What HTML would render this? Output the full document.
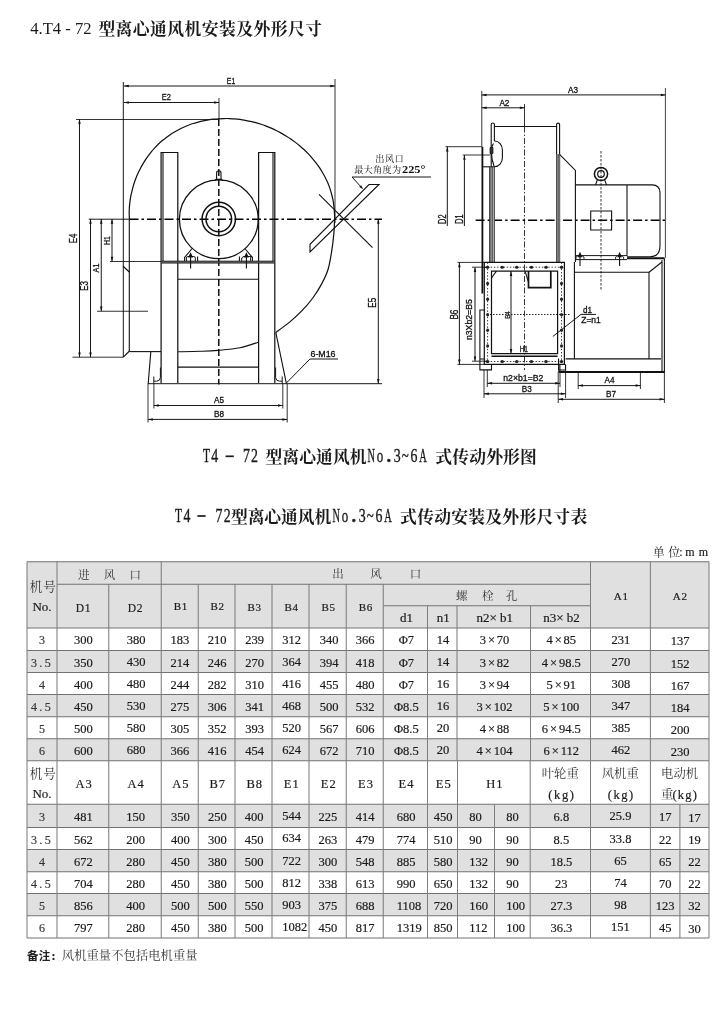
<!DOCTYPE html>
<html><head><meta charset="utf-8"><title>T4-72</title>
<style>
html,body{margin:0;padding:0;background:#fff;}
body{width:720px;height:1015px;overflow:hidden;font-family:"Liberation Serif",serif;}
svg{display:block;filter:grayscale(1)}
text{font-family:"Liberation Serif",serif;fill:#1a1a1a}
#table text{stroke:#1a1a1a;stroke-width:0.18}
.sans{font-family:"Liberation Sans",sans-serif}
.ln{fill:none}
</style></head><body>
<svg width="720" height="1015" viewBox="0 0 720 1015">
<text x="98.4" y="35.3" font-size="16.8" font-weight="bold" letter-spacing="0.45" style="font-family:'Liberation Serif','Noto Serif CJK SC',serif;fill:#1a1a1a">型离心通风机安装及外形尺寸</text>
<text x="30.2" y="33.8" font-size="16.6" style="fill:#1a1a1a">4.T4 - 72</text>
<g id="left-view">
<line x1="124" y1="86" x2="335" y2="86" stroke="#111" stroke-width="0.98"/>
<path d="M124.00 86.00L128.80 84.75L128.80 87.25Z" fill="#111"/>
<path d="M335.00 86.00L330.20 87.25L330.20 84.75Z" fill="#111"/>
<text class="sans" x="231" y="83.7" font-size="9.6" text-anchor="middle" textLength="8.5" lengthAdjust="spacingAndGlyphs" style="fill:#111;stroke:#111;stroke-width:0.3">E1</text>
<line x1="124" y1="102.5" x2="219" y2="102.5" stroke="#111" stroke-width="0.98"/>
<path d="M124.00 102.50L128.80 101.25L128.80 103.75Z" fill="#111"/>
<path d="M219.00 102.50L214.20 103.75L214.20 101.25Z" fill="#111"/>
<text class="sans" x="166.3" y="100.4" font-size="9.6" text-anchor="middle" textLength="9.2" lengthAdjust="spacingAndGlyphs" style="fill:#111;stroke:#111;stroke-width:0.3">E2</text>
<line x1="123.3" y1="82" x2="123.3" y2="357.2" stroke="#111" stroke-width="0.98"/>
<line x1="335" y1="79" x2="335" y2="223" stroke="#111" stroke-width="0.85"/>
<line x1="219" y1="98" x2="219" y2="119" stroke="#111" stroke-width="0.85"/>
<line x1="76" y1="119.5" x2="219" y2="119.5" stroke="#111" stroke-width="0.85"/>
<line x1="79.5" y1="119" x2="79.5" y2="357.2" stroke="#111" stroke-width="0.98"/>
<path d="M79.50 119.00L80.75 123.80L78.25 123.80Z" fill="#111"/>
<path d="M79.50 357.20L78.25 352.40L80.75 352.40Z" fill="#111"/>
<text class="sans" x="76.8" y="238.5" font-size="10" text-anchor="middle" transform="rotate(-90 76.8 238.5)" textLength="9.6" lengthAdjust="spacingAndGlyphs" style="fill:#111;stroke:#111;stroke-width:0.3">E4</text>
<line x1="72.5" y1="357.2" x2="123.3" y2="357.2" stroke="#111" stroke-width="0.85"/>
<line x1="90.5" y1="219" x2="90.5" y2="357.2" stroke="#111" stroke-width="0.98"/>
<path d="M90.50 219.00L91.75 223.80L89.25 223.80Z" fill="#111"/>
<path d="M90.50 357.20L89.25 352.40L91.75 352.40Z" fill="#111"/>
<text class="sans" x="87.8" y="286" font-size="10" text-anchor="middle" transform="rotate(-90 87.8 286)" textLength="9.6" lengthAdjust="spacingAndGlyphs" style="fill:#111;stroke:#111;stroke-width:0.3">E3</text>
<line x1="101.25" y1="219" x2="101.25" y2="311.25" stroke="#111" stroke-width="0.98"/>
<path d="M101.25 219.00L102.50 223.80L100.00 223.80Z" fill="#111"/>
<path d="M101.25 311.25L100.00 306.45L102.50 306.45Z" fill="#111"/>
<text class="sans" x="98.8" y="268" font-size="9.2" text-anchor="middle" transform="rotate(-90 98.8 268)" textLength="8.8" lengthAdjust="spacingAndGlyphs" style="fill:#111;stroke:#111;stroke-width:0.3">A1</text>
<line x1="97" y1="311.25" x2="148" y2="311.25" stroke="#111" stroke-width="0.85"/>
<line x1="112" y1="219" x2="112" y2="261.5" stroke="#111" stroke-width="0.98"/>
<path d="M112.00 219.00L113.25 223.80L110.75 223.80Z" fill="#111"/>
<path d="M112.00 261.50L110.75 256.70L113.25 256.70Z" fill="#111"/>
<text class="sans" x="109.6" y="240.5" font-size="9.2" text-anchor="middle" transform="rotate(-90 109.6 240.5)" textLength="8.8" lengthAdjust="spacingAndGlyphs" style="fill:#111;stroke:#111;stroke-width:0.3">H1</text>
<line x1="110" y1="261.5" x2="161" y2="261.5" stroke="#111" stroke-width="0.85"/>
<line x1="88.75" y1="219.2" x2="129.5" y2="219.2" stroke="#111" stroke-width="0.98"/>
<line x1="129.5" y1="219.2" x2="382" y2="219.2" stroke="#000" stroke-width="1.4" stroke-dasharray="9 3 2.5 3"/>
<line x1="218.8" y1="119" x2="218.8" y2="384.5" stroke="#000" stroke-width="1.4" stroke-dasharray="7 3"/>
<path d="M129.40 219.00C129.37 218.22 129.24 215.87 129.21 214.31C129.19 212.74 129.21 211.16 129.28 209.59C129.34 208.02 129.44 206.44 129.59 204.87C129.73 203.30 129.92 201.72 130.15 200.16C130.38 198.59 130.65 197.02 130.96 195.46C131.27 193.90 131.64 192.35 132.02 190.80C132.40 189.25 132.79 187.70 133.24 186.16C133.68 184.61 134.17 183.08 134.69 181.55C135.22 180.03 135.79 178.51 136.40 177.01C137.00 175.51 137.65 174.02 138.34 172.55C139.03 171.08 139.77 169.62 140.53 168.17C141.30 166.73 142.11 165.30 142.94 163.89C143.78 162.47 144.64 161.06 145.55 159.68C146.45 158.30 147.40 156.94 148.38 155.60C149.37 154.26 150.39 152.94 151.45 151.65C152.51 150.36 153.61 149.09 154.74 147.85C155.87 146.61 157.03 145.38 158.24 144.21C159.45 143.04 160.71 141.92 162.01 140.83C163.30 139.74 164.64 138.70 165.99 137.69C167.35 136.67 168.74 135.69 170.16 134.75C171.57 133.80 173.01 132.89 174.48 132.02C175.95 131.15 177.44 130.31 178.96 129.51C180.47 128.72 182.01 127.95 183.58 127.24C185.14 126.53 186.73 125.87 188.34 125.24C189.94 124.62 191.57 124.05 193.22 123.52C194.86 122.99 196.52 122.49 198.19 122.05C199.86 121.60 201.55 121.19 203.25 120.83C204.95 120.47 206.66 120.16 208.38 119.89C210.10 119.61 211.83 119.39 213.57 119.21C215.31 119.03 217.05 118.91 218.80 118.80C220.55 118.69 222.31 118.58 224.06 118.54C225.82 118.50 227.59 118.50 229.36 118.55C231.12 118.61 232.89 118.70 234.66 118.85C236.43 118.99 238.20 119.19 239.97 119.42C241.73 119.66 243.49 119.95 245.25 120.28C247.01 120.62 248.75 121.02 250.51 121.42C252.26 121.82 254.02 122.22 255.77 122.69C257.52 123.16 259.26 123.68 260.99 124.25C262.72 124.81 264.43 125.43 266.14 126.08C267.85 126.74 269.55 127.44 271.24 128.17C272.93 128.91 274.61 129.67 276.28 130.50C277.94 131.32 279.58 132.19 281.21 133.10C282.84 134.01 284.43 134.99 286.03 135.98C287.62 136.97 289.22 137.99 290.78 139.05C292.35 140.12 293.90 141.22 295.43 142.37C296.95 143.52 298.45 144.72 299.92 145.96C301.39 147.20 302.83 148.48 304.24 149.81C305.65 151.14 307.03 152.51 308.37 153.93C309.71 155.34 311.02 156.79 312.29 158.29C313.56 159.78 314.80 161.31 316.00 162.88C317.20 164.45 318.38 166.05 319.48 167.70C320.59 169.35 321.62 171.05 322.62 172.78C323.62 174.50 324.58 176.26 325.50 178.04C326.41 179.83 327.34 181.63 328.11 183.48C328.88 185.34 329.51 187.25 330.13 189.17C330.75 191.08 331.31 193.02 331.82 194.98C332.33 196.93 332.82 198.90 333.17 200.88C333.53 202.87 333.75 204.89 333.97 206.90C334.18 208.90 334.34 210.92 334.44 212.94C334.55 214.96 334.69 215.66 334.60 219.00C334.51 222.34 334.38 227.65 333.90 233.00C333.42 238.35 332.67 245.07 331.70 251.10C330.73 257.13 329.75 263.78 328.10 269.20C326.45 274.62 324.35 278.80 321.80 283.60C319.25 288.40 316.10 293.48 312.80 298.00C309.50 302.52 305.92 306.63 302.00 310.70C298.08 314.77 293.67 318.78 289.30 322.40C284.93 326.02 278.05 330.73 275.80 332.40" stroke="#111" stroke-width="1.22" fill="none"/>
<line x1="129.3" y1="219" x2="129.3" y2="351.6" stroke="#111" stroke-width="1.1"/>
<path d="M129.3 272L122.9 266M123.3 357.2L129.5 351" stroke="#111" stroke-width="1.1" fill="none"/>
<line x1="129.5" y1="351.6" x2="161" y2="351.6" stroke="#111" stroke-width="1.1"/>
<path d="M178.20 351.80C181.83 351.72 193.40 351.53 200.00 351.30C206.60 351.07 211.13 350.98 217.80 350.40C224.47 349.82 233.27 349.17 240.00 347.80C246.73 346.43 255.17 343.13 258.20 342.20" stroke="#111" stroke-width="1.1" fill="none"/>
<path d="M161.1 383V152.5H177.8V383" stroke="#111" stroke-width="1.22" fill="none"/>
<line x1="163" y1="152.5" x2="163" y2="261" stroke="#111" stroke-width="1.1"/>
<path d="M258.6 383V152.5H274.8V383" stroke="#111" stroke-width="1.22" fill="none"/>
<line x1="273" y1="152.5" x2="273" y2="261" stroke="#111" stroke-width="1.1"/>
<circle cx="218.8" cy="219.3" r="39.4" class="ln" stroke-width="1.3" stroke="#111"/>
<circle cx="218.8" cy="219" r="16.7" class="ln" stroke-width="1.5" stroke="#111"/>
<circle cx="218.8" cy="219" r="12.8" class="ln" stroke-width="1.5" stroke="#111"/>
<path d="M216.6 179.6V173a2.2 2.2 0 0 1 4.4 0V179.6M215 180.6L216 179.4H221.6L222.6 180.6" stroke="#111" stroke-width="1.1" fill="none"/>
<rect x="161.1" y="261.3" width="113.7" height="1.7" fill="#8a8a8a"/>
<line x1="161.1" y1="261.2" x2="274.8" y2="261.2" stroke="#111" stroke-width="0.98"/>
<line x1="161.1" y1="263.0" x2="274.8" y2="263.0" stroke="#111" stroke-width="0.98"/>
<path d="M184.6 261V257.5L192.1 248.5M197.6 261V256.5" stroke="#111" stroke-width="1.1" fill="none"/>
<path d="M186.4 261V258a1.5 1.5 0 0 1 1.5 -1.5H193.79999999999998a1.5 1.5 0 0 1 1.5 1.5V261" stroke="#111" stroke-width="0.98" fill="none"/>
<line x1="190.6" y1="268.5" x2="190.6" y2="255" stroke="#111" stroke-width="1.1"/>
<path d="M190.60 252.20L193.00 257.40L188.20 257.40Z" fill="#111"/>
<path d="M252.4 261V257.5L244.9 248.5M239.4 261V256.5" stroke="#111" stroke-width="1.1" fill="none"/>
<path d="M250.6 261V258a1.5 1.5 0 0 1 1.5 -1.5H243.20000000000002a1.5 1.5 0 0 1 -1.5 1.5V261" stroke="#111" stroke-width="0.98" fill="none"/>
<line x1="246.4" y1="268.5" x2="246.4" y2="255" stroke="#111" stroke-width="1.1"/>
<path d="M246.40 252.20L248.80 257.40L244.00 257.40Z" fill="#111"/>
<line x1="177.8" y1="279.2" x2="258.6" y2="279.2" stroke="#111" stroke-width="1.1"/>
<line x1="177.8" y1="367.1" x2="258.6" y2="367.1" stroke="#111" stroke-width="1.1"/>
<line x1="147.8" y1="383.7" x2="382" y2="383.7" stroke="#111" stroke-width="0.98"/>
<line x1="150.8" y1="351.6" x2="148.2" y2="383.7" stroke="#111" stroke-width="1.1"/>
<line x1="275.8" y1="332.4" x2="286.4" y2="383.7" stroke="#111" stroke-width="1.1"/>
<path d="M153.8 376.5V383.7M160.4 367.5V377.5Q160.2 381 156.5 381.2H153.8" stroke="#111" stroke-width="0.98" fill="none"/>
<path d="M282.2 376.5V383.7M275.6 367.5V377.5Q275.8 381 279.5 381.2H282.2" stroke="#111" stroke-width="0.98" fill="none"/>
<path d="M338 359H310L286.4 383" stroke="#111" stroke-width="0.98" fill="none"/>
<text class="sans" x="323" y="357.2" font-size="8.5" text-anchor="middle" textLength="25" lengthAdjust="spacingAndGlyphs" style="fill:#111;stroke:#111;stroke-width:0.3">6-M16</text>
<line x1="153.9" y1="383.7" x2="153.9" y2="408.5" stroke="#111" stroke-width="0.85"/>
<line x1="282.8" y1="383.7" x2="282.8" y2="408.5" stroke="#111" stroke-width="0.85"/>
<line x1="153.9" y1="405.5" x2="282.8" y2="405.5" stroke="#111" stroke-width="0.98"/>
<path d="M153.90 405.50L158.70 404.25L158.70 406.75Z" fill="#111"/>
<path d="M282.80 405.50L278.00 406.75L278.00 404.25Z" fill="#111"/>
<text class="sans" x="219" y="402.5" font-size="8.8" text-anchor="middle" textLength="10" lengthAdjust="spacingAndGlyphs" style="fill:#111;stroke:#111;stroke-width:0.3">A5</text>
<line x1="148" y1="383.7" x2="148" y2="422.5" stroke="#111" stroke-width="0.85"/>
<line x1="287.2" y1="383.7" x2="287.2" y2="422.5" stroke="#111" stroke-width="0.85"/>
<line x1="148" y1="419.4" x2="287.2" y2="419.4" stroke="#111" stroke-width="0.98"/>
<path d="M148.00 419.40L152.80 418.15L152.80 420.65Z" fill="#111"/>
<path d="M287.20 419.40L282.40 420.65L282.40 418.15Z" fill="#111"/>
<text class="sans" x="219" y="417" font-size="8.8" text-anchor="middle" textLength="10" lengthAdjust="spacingAndGlyphs" style="fill:#111;stroke:#111;stroke-width:0.3">B8</text>
<line x1="378.3" y1="219" x2="378.3" y2="383.7" stroke="#111" stroke-width="0.98"/>
<path d="M378.30 219.00L379.55 223.80L377.05 223.80Z" fill="#111"/>
<path d="M378.30 383.70L377.05 378.90L379.55 378.90Z" fill="#111"/>
<text class="sans" x="376.2" y="302.8" font-size="10.4" text-anchor="middle" transform="rotate(-90 376.2 302.8)" textLength="10" lengthAdjust="spacingAndGlyphs" style="fill:#111;stroke:#111;stroke-width:0.3">E5</text>
<path d="M369 184.5H379L310 252V244.3Z" stroke="#111" stroke-width="1.1" fill="none"/>
<line x1="319" y1="194.4" x2="372.5" y2="247.6" stroke="#111" stroke-width="1.1"/>
<path d="M431 177H352L362 188" stroke="#111" stroke-width="0.98" fill="none"/>
<path d="M363.20 189.30L359.19 186.90L361.09 185.13Z" fill="#111"/>
<text x="375.3" y="161.6" font-size="9.2" letter-spacing="0.4" style="font-family:'Liberation Serif','Noto Serif CJK SC',serif;fill:#111">出风口</text>
<text x="354.2" y="172.8" font-size="9.2" letter-spacing="0.25" style="font-family:'Liberation Serif','Noto Serif CJK SC',serif;fill:#111">最大角度为</text>
<text x="402" y="172.8" font-size="10.5" font-weight="bold" textLength="23.5" lengthAdjust="spacingAndGlyphs" style="fill:#111">225°</text>
</g>
<g id="right-view">
<line x1="481.8" y1="94.9" x2="665.6" y2="94.9" stroke="#111" stroke-width="0.98"/>
<path d="M481.80 94.90L486.60 93.65L486.60 96.15Z" fill="#111"/>
<path d="M665.60 94.90L660.80 96.15L660.80 93.65Z" fill="#111"/>
<text class="sans" x="573" y="92.5" font-size="8.8" text-anchor="middle" textLength="10" lengthAdjust="spacingAndGlyphs" style="fill:#111;stroke:#111;stroke-width:0.3">A3</text>
<line x1="481.8" y1="107.8" x2="524.6" y2="107.8" stroke="#111" stroke-width="0.98"/>
<path d="M481.80 107.80L486.60 106.55L486.60 109.05Z" fill="#111"/>
<path d="M524.60 107.80L519.80 109.05L519.80 106.55Z" fill="#111"/>
<text class="sans" x="504.4" y="105.5" font-size="8.8" text-anchor="middle" textLength="10" lengthAdjust="spacingAndGlyphs" style="fill:#111;stroke:#111;stroke-width:0.3">A2</text>
<line x1="481.8" y1="91" x2="481.8" y2="146.7" stroke="#111" stroke-width="0.85"/>
<line x1="665.4" y1="88" x2="665.4" y2="258" stroke="#111" stroke-width="0.79"/>
<line x1="524.5" y1="104" x2="524.5" y2="126.5" stroke="#111" stroke-width="0.85"/>
<line x1="524.5" y1="126.5" x2="524.5" y2="370" stroke="#333" stroke-width="0.98" stroke-dasharray="6 2 1.5 2"/>
<line x1="447.3" y1="146.7" x2="447.3" y2="226" stroke="#111" stroke-width="0.98"/>
<path d="M447.30 146.70L448.55 151.50L446.05 151.50Z" fill="#111"/>
<line x1="464.4" y1="155" x2="464.4" y2="226" stroke="#111" stroke-width="0.98"/>
<path d="M464.40 155.00L465.65 159.80L463.15 159.80Z" fill="#111"/>
<line x1="445.5" y1="146.7" x2="481.8" y2="146.7" stroke="#111" stroke-width="0.85"/>
<line x1="462.7" y1="155" x2="490.4" y2="155" stroke="#111" stroke-width="0.85"/>
<text class="sans" x="445.7" y="219.2" font-size="10.2" text-anchor="middle" transform="rotate(-90 445.7 219.2)" textLength="9.4" lengthAdjust="spacingAndGlyphs" style="fill:#111;stroke:#111;stroke-width:0.3">D2</text>
<text class="sans" x="462.7" y="219.2" font-size="10.2" text-anchor="middle" transform="rotate(-90 462.7 219.2)" textLength="9.2" lengthAdjust="spacingAndGlyphs" style="fill:#111;stroke:#111;stroke-width:0.3">D1</text>
<line x1="475.6" y1="220.3" x2="665" y2="220.3" stroke="#000" stroke-width="1.4" stroke-dasharray="9 3 2.5 3"/>
<line x1="482.4" y1="146.7" x2="482.4" y2="293.5" stroke="#111" stroke-width="1.83"/>
<line x1="482.4" y1="166.8" x2="490.4" y2="166.8" stroke="#111" stroke-width="1.1"/>
<path d="M491.2 262.4V124.6a1.6 1.6 0 0 1 3.2 0V141" stroke="#111" stroke-width="1.1" fill="none"/>
<line x1="494.4" y1="166.8" x2="494.4" y2="262.4" stroke="#111" stroke-width="1.1"/>
<rect x="489.8" y="166.8" width="4.6" height="95.6" fill="#a8a8a8"/>
<line x1="492.2" y1="166.8" x2="492.2" y2="262.4" stroke="#444" stroke-width="0.98"/>
<line x1="489.8" y1="166.8" x2="489.8" y2="262.4" stroke="#111" stroke-width="1.1"/>
<line x1="494.4" y1="126.5" x2="556.6" y2="126.5" stroke="#111" stroke-width="1.1"/>
<path d="M556.6 262.4V124.6a1.5 1.5 0 0 1 3 0V262.4" stroke="#111" stroke-width="1.1" fill="none"/>
<rect x="556.6" y="154" width="3" height="108.4" fill="#a8a8a8"/>
<line x1="558.1" y1="154" x2="558.1" y2="262.4" stroke="#444" stroke-width="0.98"/>
<path d="M494.4 141C499 141 502.4 145 502.4 150V157.5C502.4 163 499 166.8 494.2 166.8H490.4" stroke="#111" stroke-width="1.1" fill="none"/>
<path d="M493.5 143.5Q491 147 491.5 152Q491.5 160 494 166" stroke="#111" stroke-width="1.1" fill="none"/>
<path d="M490 147.5H493V153.5H490Z" stroke="#111" stroke-width="0.73" fill="#333"/>
<path d="M559.6 154.3L575.4 170.4V262" stroke="#111" stroke-width="1.1" fill="none"/>
<path d="M575.4 184.9H652Q660 184.9 660 193V246Q660 256.7 650 256.7H627" stroke="#111" stroke-width="1.1" fill="none"/>
<line x1="627" y1="184.9" x2="627" y2="256" stroke="#111" stroke-width="1.1"/>
<circle cx="601" cy="174" r="6.6" class="ln" stroke-width="1.5" stroke="#111"/>
<circle cx="601" cy="174" r="3.3" class="ln" stroke-width="1.2" stroke="#111"/>
<path d="M597.3 180L595.5 184.9M604.7 180L606.5 184.9" stroke="#111" stroke-width="1.1" fill="none"/>
<line x1="601" y1="151" x2="601" y2="291" stroke="#111" stroke-width="0.85" stroke-dasharray="2.5 1.5"/>
<path d="M590.7 211H611.6V230H590.7Z" stroke="#111" stroke-width="1.1" fill="none"/>
<line x1="575.4" y1="255.6" x2="627" y2="255.6" stroke="#111" stroke-width="0.98"/>
<line x1="575.4" y1="259.6" x2="627" y2="259.6" stroke="#111" stroke-width="0.98"/>
<line x1="627" y1="258.2" x2="664.4" y2="258.2" stroke="#111" stroke-width="1.95"/>
<line x1="580" y1="266" x2="580" y2="255" stroke="#111" stroke-width="1.1"/>
<path d="M580.00 251.80L582.40 257.30L577.60 257.30Z" fill="#111"/>
<path d="M576 259.6V257L578 255.6M584 259.6V257L582 255.6" stroke="#111" stroke-width="0.85" fill="none"/>
<line x1="619.6" y1="266" x2="619.6" y2="255" stroke="#111" stroke-width="1.1"/>
<path d="M619.60 251.80L622.00 257.30L617.20 257.30Z" fill="#111"/>
<path d="M615.6 259.6V257L617.6 255.6M623.6 259.6V257L621.6 255.6" stroke="#111" stroke-width="0.85" fill="none"/>
<path d="M574.4 262V359" stroke="#111" stroke-width="1.1" fill="none"/>
<path d="M574.4 272.2H649V359" stroke="#111" stroke-width="1.1" fill="none"/>
<line x1="649" y1="272.2" x2="662" y2="262" stroke="#111" stroke-width="1.1"/>
<line x1="662" y1="260" x2="662" y2="372" stroke="#111" stroke-width="1.1"/>
<line x1="664.4" y1="258.2" x2="664.4" y2="372.5" stroke="#111" stroke-width="1.1"/>
<line x1="565.6" y1="358.9" x2="661" y2="358.9" stroke="#111" stroke-width="1.1"/>
<line x1="558.9" y1="372.0" x2="664.4" y2="372.0" stroke="#111" stroke-width="1.83"/>
<path d="M558.9 364.4V372.5" stroke="#111" stroke-width="1.1" fill="none"/>
<path d="M484.3 262.4H564.4V364.4H484.3Z" stroke="#111" stroke-width="1.22" fill="none"/>
<path d="M491.5 271.1H557.6V353.7H491.5Z" stroke="#111" stroke-width="1.22" fill="none"/>
<line x1="491.5" y1="356.2" x2="557.6" y2="356.2" stroke="#111" stroke-width="1.46"/>
<line x1="487.6" y1="262.4" x2="487.6" y2="364.4" stroke="#111" stroke-width="0.85" stroke-dasharray="1.4 1.8"/>
<line x1="561.5" y1="262.4" x2="561.5" y2="364.4" stroke="#111" stroke-width="0.85" stroke-dasharray="1.4 1.8"/>
<line x1="484.3" y1="267.2" x2="564.4" y2="267.2" stroke="#111" stroke-width="0.85" stroke-dasharray="1.4 1.8"/>
<line x1="484.3" y1="361.5" x2="564.4" y2="361.5" stroke="#111" stroke-width="0.85" stroke-dasharray="1.4 1.8"/>
<line x1="487" y1="314.5" x2="571" y2="314.5" stroke="#111" stroke-width="0.92" stroke-dasharray="1.5 1.5"/>
<ellipse cx="487.6" cy="267.2" rx="1.8" ry="1.5" fill="#222"/>
<ellipse cx="487.6" cy="361.5" rx="1.8" ry="1.5" fill="#222"/>
<ellipse cx="502.2" cy="267.2" rx="1.8" ry="1.5" fill="#222"/>
<ellipse cx="502.2" cy="361.5" rx="1.8" ry="1.5" fill="#222"/>
<ellipse cx="516.8" cy="267.2" rx="1.8" ry="1.5" fill="#222"/>
<ellipse cx="516.8" cy="361.5" rx="1.8" ry="1.5" fill="#222"/>
<ellipse cx="531.4" cy="267.2" rx="1.8" ry="1.5" fill="#222"/>
<ellipse cx="531.4" cy="361.5" rx="1.8" ry="1.5" fill="#222"/>
<ellipse cx="546" cy="267.2" rx="1.8" ry="1.5" fill="#222"/>
<ellipse cx="546" cy="361.5" rx="1.8" ry="1.5" fill="#222"/>
<ellipse cx="561.5" cy="267.2" rx="1.8" ry="1.5" fill="#222"/>
<ellipse cx="561.5" cy="361.5" rx="1.8" ry="1.5" fill="#222"/>
<ellipse cx="487.6" cy="283.6" rx="1.5" ry="1.8" fill="#222"/>
<ellipse cx="561.5" cy="283.6" rx="1.5" ry="1.8" fill="#222"/>
<ellipse cx="487.6" cy="299.3" rx="1.5" ry="1.8" fill="#222"/>
<ellipse cx="561.5" cy="299.3" rx="1.5" ry="1.8" fill="#222"/>
<ellipse cx="487.6" cy="314.7" rx="1.5" ry="1.8" fill="#222"/>
<ellipse cx="561.5" cy="314.7" rx="1.5" ry="1.8" fill="#222"/>
<ellipse cx="487.6" cy="330.2" rx="1.5" ry="1.8" fill="#222"/>
<ellipse cx="561.5" cy="330.2" rx="1.5" ry="1.8" fill="#222"/>
<ellipse cx="487.6" cy="346" rx="1.5" ry="1.8" fill="#222"/>
<ellipse cx="561.5" cy="346" rx="1.5" ry="1.8" fill="#222"/>
<path d="M528.5 271.1V287.6H550.8V271.1" stroke="#111" stroke-width="1.71" fill="none"/>
<path d="M525 271.1L528.5 282" stroke="#111" stroke-width="1.1" fill="none"/>
<path d="M491.5 278L496.4 271.1" stroke="#111" stroke-width="1.1" fill="none"/>
<line x1="511" y1="271.1" x2="511" y2="353.7" stroke="#111" stroke-width="0.98"/>
<path d="M511.00 271.10L512.25 275.90L509.75 275.90Z" fill="#111"/>
<path d="M511.00 353.70L509.75 348.90L512.25 348.90Z" fill="#111"/>
<text class="sans" x="510" y="315" font-size="7.4" text-anchor="middle" transform="rotate(-90 510 315)" textLength="7.7" lengthAdjust="spacingAndGlyphs" style="fill:#111;stroke:#111;stroke-width:0.3">B4</text>
<text class="sans" x="523.8" y="352" font-size="8.6" text-anchor="middle" textLength="8.3" lengthAdjust="spacingAndGlyphs" style="fill:#111;stroke:#111;stroke-width:0.3">H1</text>
<line x1="457.5" y1="262.4" x2="484.3" y2="262.4" stroke="#111" stroke-width="0.85"/>
<line x1="457.5" y1="364.4" x2="484.3" y2="364.4" stroke="#111" stroke-width="0.85"/>
<line x1="459.4" y1="262.4" x2="459.4" y2="364.4" stroke="#111" stroke-width="0.98"/>
<path d="M459.40 262.40L460.65 267.20L458.15 267.20Z" fill="#111"/>
<path d="M459.40 364.40L458.15 359.60L460.65 359.60Z" fill="#111"/>
<text class="sans" x="457.6" y="314.6" font-size="10.2" text-anchor="middle" transform="rotate(-90 457.6 314.6)" textLength="10" lengthAdjust="spacingAndGlyphs" style="fill:#111;stroke:#111;stroke-width:0.3">B6</text>
<line x1="472" y1="267.2" x2="487" y2="267.2" stroke="#111" stroke-width="0.85"/>
<line x1="472" y1="361.2" x2="487" y2="361.2" stroke="#111" stroke-width="0.85"/>
<line x1="475" y1="267.2" x2="475" y2="361.2" stroke="#111" stroke-width="0.98"/>
<path d="M475.00 267.20L476.25 272.00L473.75 272.00Z" fill="#111"/>
<path d="M475.00 361.20L473.75 356.40L476.25 356.40Z" fill="#111"/>
<text class="sans" x="472.3" y="319.6" font-size="9.6" text-anchor="middle" transform="rotate(-90 472.3 319.6)" textLength="41" lengthAdjust="spacingAndGlyphs" style="fill:#111;stroke:#111;stroke-width:0.3">n3Xb2=B5</text>
<path d="M484.3 310H479.9V369.9H491.5V364.4M479.9 359H484.3" stroke="#111" stroke-width="1.1" fill="none"/>
<path d="M558.6 358.5V370H565.5V364.4" stroke="#111" stroke-width="1.1" fill="none"/>
<path d="M552.8 336.5L581 314.4H596" stroke="#111" stroke-width="0.98" fill="none"/>
<text class="sans" x="587.5" y="312.6" font-size="8.5" text-anchor="middle" textLength="9" lengthAdjust="spacingAndGlyphs" style="fill:#111;stroke:#111;stroke-width:0.3">d1</text>
<text class="sans" x="591" y="322.6" font-size="8.5" text-anchor="middle" textLength="19.5" lengthAdjust="spacingAndGlyphs" style="fill:#111;stroke:#111;stroke-width:0.3">Z=n1</text>
<line x1="487.3" y1="370" x2="487.3" y2="387" stroke="#111" stroke-width="0.85"/>
<line x1="560" y1="364.4" x2="560" y2="387" stroke="#111" stroke-width="0.85"/>
<line x1="487.3" y1="383.3" x2="560" y2="383.3" stroke="#111" stroke-width="0.98"/>
<path d="M487.30 383.30L492.10 382.05L492.10 384.55Z" fill="#111"/>
<path d="M560.00 383.30L555.20 384.55L555.20 382.05Z" fill="#111"/>
<text class="sans" x="523.3" y="381" font-size="8.5" text-anchor="middle" textLength="40" lengthAdjust="spacingAndGlyphs" style="fill:#111;stroke:#111;stroke-width:0.3">n2×b1=B2</text>
<line x1="484" y1="370" x2="484" y2="398" stroke="#111" stroke-width="0.85"/>
<line x1="565.6" y1="364.4" x2="565.6" y2="398" stroke="#111" stroke-width="0.85"/>
<line x1="484" y1="393.8" x2="565.6" y2="393.8" stroke="#111" stroke-width="0.98"/>
<path d="M484.00 393.80L488.80 392.55L488.80 395.05Z" fill="#111"/>
<path d="M565.60 393.80L560.80 395.05L560.80 392.55Z" fill="#111"/>
<text class="sans" x="526.7" y="391.5" font-size="8.8" text-anchor="middle" textLength="10" lengthAdjust="spacingAndGlyphs" style="fill:#111;stroke:#111;stroke-width:0.3">B3</text>
<line x1="578.2" y1="371.6" x2="578.2" y2="389" stroke="#111" stroke-width="0.85"/>
<line x1="640.4" y1="371.6" x2="640.4" y2="389" stroke="#111" stroke-width="0.85"/>
<line x1="578.2" y1="385.6" x2="640.4" y2="385.6" stroke="#111" stroke-width="0.98"/>
<path d="M578.20 385.60L583.00 384.35L583.00 386.85Z" fill="#111"/>
<path d="M640.40 385.60L635.60 386.85L635.60 384.35Z" fill="#111"/>
<text class="sans" x="609.6" y="383" font-size="8.8" text-anchor="middle" textLength="10" lengthAdjust="spacingAndGlyphs" style="fill:#111;stroke:#111;stroke-width:0.3">A4</text>
<line x1="558.2" y1="371.6" x2="558.2" y2="403" stroke="#111" stroke-width="0.85"/>
<line x1="664.4" y1="371.6" x2="664.4" y2="403" stroke="#111" stroke-width="0.85"/>
<line x1="558.2" y1="399.3" x2="664.4" y2="399.3" stroke="#111" stroke-width="0.98"/>
<path d="M558.20 399.30L563.00 398.05L563.00 400.55Z" fill="#111"/>
<path d="M664.40 399.30L659.60 400.55L659.60 398.05Z" fill="#111"/>
<text class="sans" x="611" y="397" font-size="8.8" text-anchor="middle" textLength="10" lengthAdjust="spacingAndGlyphs" style="fill:#111;stroke:#111;stroke-width:0.3">B7</text>
</g>
<g id="captions">
<text transform="translate(206.50,462.3) scale(0.62,1)" font-size="18.5" text-anchor="middle" style="font-family:'Liberation Serif',serif;fill:#1a1a1a;font-weight:normal;stroke:#1a1a1a;stroke-width:0.35">T</text>
<text transform="translate(214.70,462.3) scale(0.75,1)" font-size="18.5" text-anchor="middle" style="font-family:'Liberation Serif',serif;fill:#1a1a1a;font-weight:normal;stroke:#1a1a1a;stroke-width:0.35">4</text>
<rect x="225.60" y="455.45" width="8.2" height="1.7" fill="#1a1a1a"/>
<text transform="translate(246.50,462.3) scale(0.75,1)" font-size="18.5" text-anchor="middle" style="font-family:'Liberation Serif',serif;fill:#1a1a1a;font-weight:normal;stroke:#1a1a1a;stroke-width:0.35">7</text>
<text transform="translate(254.40,462.3) scale(0.75,1)" font-size="18.5" text-anchor="middle" style="font-family:'Liberation Serif',serif;fill:#1a1a1a;font-weight:normal;stroke:#1a1a1a;stroke-width:0.35">2</text>
<text x="265.4" y="462.7" font-size="16.8" font-weight="bold" letter-spacing="0.1" style="font-family:'Liberation Serif','Noto Serif CJK SC',serif;fill:#1a1a1a">型离心通风机</text>
<text transform="translate(371.25,462.3) scale(0.56,1)" font-size="18.5" text-anchor="middle" style="font-family:'Liberation Serif',serif;fill:#1a1a1a;font-weight:normal;stroke:#1a1a1a;stroke-width:0.35">N</text>
<text transform="translate(380.00,462.3) scale(0.7,1)" font-size="18.5" text-anchor="middle" style="font-family:'Liberation Serif',serif;fill:#1a1a1a;font-weight:normal;stroke:#1a1a1a;stroke-width:0.35">o</text>
<text transform="translate(388.75,462.3) scale(1.0,1)" font-size="18.5" text-anchor="middle" style="font-family:'Liberation Serif',serif;fill:#1a1a1a;font-weight:bold;stroke:#1a1a1a;stroke-width:0.35">.</text>
<text transform="translate(397.20,462.3) scale(0.75,1)" font-size="18.5" text-anchor="middle" style="font-family:'Liberation Serif',serif;fill:#1a1a1a;font-weight:normal;stroke:#1a1a1a;stroke-width:0.35">3</text>
<text transform="translate(405.30,462.3) scale(0.7,1)" font-size="18.5" text-anchor="middle" style="font-family:'Liberation Serif',serif;fill:#1a1a1a;font-weight:normal;stroke:#1a1a1a;stroke-width:0.35">~</text>
<text transform="translate(414.00,462.3) scale(0.75,1)" font-size="18.5" text-anchor="middle" style="font-family:'Liberation Serif',serif;fill:#1a1a1a;font-weight:normal;stroke:#1a1a1a;stroke-width:0.35">6</text>
<text transform="translate(423.10,462.3) scale(0.56,1)" font-size="18.5" text-anchor="middle" style="font-family:'Liberation Serif',serif;fill:#1a1a1a;font-weight:normal;stroke:#1a1a1a;stroke-width:0.35">A</text>
<text x="435.2" y="462.7" font-size="16.8" font-weight="bold" letter-spacing="0.2" style="font-family:'Liberation Serif','Noto Serif CJK SC',serif;fill:#1a1a1a">式传动外形图</text>
<text transform="translate(178.40,522.0) scale(0.62,1)" font-size="18.5" text-anchor="middle" style="font-family:'Liberation Serif',serif;fill:#1a1a1a;font-weight:normal;stroke:#1a1a1a;stroke-width:0.35">T</text>
<text transform="translate(186.90,522.0) scale(0.75,1)" font-size="18.5" text-anchor="middle" style="font-family:'Liberation Serif',serif;fill:#1a1a1a;font-weight:normal;stroke:#1a1a1a;stroke-width:0.35">4</text>
<rect x="197.40" y="515.15" width="8.2" height="1.7" fill="#1a1a1a"/>
<text transform="translate(219.00,522.0) scale(0.75,1)" font-size="18.5" text-anchor="middle" style="font-family:'Liberation Serif',serif;fill:#1a1a1a;font-weight:normal;stroke:#1a1a1a;stroke-width:0.35">7</text>
<text transform="translate(227.20,522.0) scale(0.75,1)" font-size="18.5" text-anchor="middle" style="font-family:'Liberation Serif',serif;fill:#1a1a1a;font-weight:normal;stroke:#1a1a1a;stroke-width:0.35">2</text>
<text x="231.0" y="522.6" font-size="16.8" font-weight="bold" letter-spacing="-0.1" style="font-family:'Liberation Serif','Noto Serif CJK SC',serif;fill:#1a1a1a">型离心通风机</text>
<text transform="translate(336.25,522.0) scale(0.56,1)" font-size="18.5" text-anchor="middle" style="font-family:'Liberation Serif',serif;fill:#1a1a1a;font-weight:normal;stroke:#1a1a1a;stroke-width:0.35">N</text>
<text transform="translate(345.00,522.0) scale(0.7,1)" font-size="18.5" text-anchor="middle" style="font-family:'Liberation Serif',serif;fill:#1a1a1a;font-weight:normal;stroke:#1a1a1a;stroke-width:0.35">o</text>
<text transform="translate(353.75,522.0) scale(1.0,1)" font-size="18.5" text-anchor="middle" style="font-family:'Liberation Serif',serif;fill:#1a1a1a;font-weight:bold;stroke:#1a1a1a;stroke-width:0.35">.</text>
<text transform="translate(362.20,522.0) scale(0.75,1)" font-size="18.5" text-anchor="middle" style="font-family:'Liberation Serif',serif;fill:#1a1a1a;font-weight:normal;stroke:#1a1a1a;stroke-width:0.35">3</text>
<text transform="translate(370.30,522.0) scale(0.7,1)" font-size="18.5" text-anchor="middle" style="font-family:'Liberation Serif',serif;fill:#1a1a1a;font-weight:normal;stroke:#1a1a1a;stroke-width:0.35">~</text>
<text transform="translate(379.00,522.0) scale(0.75,1)" font-size="18.5" text-anchor="middle" style="font-family:'Liberation Serif',serif;fill:#1a1a1a;font-weight:normal;stroke:#1a1a1a;stroke-width:0.35">6</text>
<text transform="translate(388.10,522.0) scale(0.56,1)" font-size="18.5" text-anchor="middle" style="font-family:'Liberation Serif',serif;fill:#1a1a1a;font-weight:normal;stroke:#1a1a1a;stroke-width:0.35">A</text>
<text x="400.1" y="522.6" font-size="16.8" font-weight="bold" letter-spacing="0.26" style="font-family:'Liberation Serif','Noto Serif CJK SC',serif;fill:#1a1a1a">式传动安装及外形尺寸表</text>
</g>
<g id="table">
<rect x="27" y="561.75" width="682.00" height="66.25" fill="#e0e0e0"/>
<rect x="27" y="650.5" width="682.00" height="22.00" fill="#e0e0e0"/>
<rect x="27" y="694.5" width="682.00" height="22.25" fill="#e0e0e0"/>
<rect x="27" y="738.75" width="682.00" height="22.00" fill="#e0e0e0"/>
<rect x="27" y="804.25" width="682.00" height="23.25" fill="#e0e0e0"/>
<rect x="27" y="849.5" width="682.00" height="22.25" fill="#e0e0e0"/>
<rect x="27" y="893.5" width="682.00" height="22.20" fill="#e0e0e0"/>
<line x1="27" y1="561.75" x2="709" y2="561.75" stroke="#727272" stroke-width="1.05"/>
<line x1="57" y1="584.25" x2="590.5" y2="584.25" stroke="#727272" stroke-width="1.05"/>
<line x1="383.25" y1="605.75" x2="590.5" y2="605.75" stroke="#727272" stroke-width="1.05"/>
<line x1="27" y1="628" x2="709" y2="628" stroke="#727272" stroke-width="1.05"/>
<line x1="27" y1="650.5" x2="709" y2="650.5" stroke="#727272" stroke-width="1.05"/>
<line x1="27" y1="672.5" x2="709" y2="672.5" stroke="#727272" stroke-width="1.05"/>
<line x1="27" y1="694.5" x2="709" y2="694.5" stroke="#727272" stroke-width="1.05"/>
<line x1="27" y1="716.75" x2="709" y2="716.75" stroke="#727272" stroke-width="1.05"/>
<line x1="27" y1="738.75" x2="709" y2="738.75" stroke="#727272" stroke-width="1.05"/>
<line x1="27" y1="760.75" x2="709" y2="760.75" stroke="#727272" stroke-width="1.05"/>
<line x1="27" y1="804.25" x2="709" y2="804.25" stroke="#727272" stroke-width="1.05"/>
<line x1="27" y1="827.5" x2="709" y2="827.5" stroke="#727272" stroke-width="1.05"/>
<line x1="27" y1="849.5" x2="709" y2="849.5" stroke="#727272" stroke-width="1.05"/>
<line x1="27" y1="871.75" x2="709" y2="871.75" stroke="#727272" stroke-width="1.05"/>
<line x1="27" y1="893.5" x2="709" y2="893.5" stroke="#727272" stroke-width="1.05"/>
<line x1="27" y1="915.7" x2="709" y2="915.7" stroke="#727272" stroke-width="1.05"/>
<line x1="27" y1="938" x2="709" y2="938" stroke="#727272" stroke-width="1.05"/>
<line x1="27" y1="561.75" x2="27" y2="938" stroke="#7e7e7e" stroke-width="1.05"/>
<line x1="709" y1="561.75" x2="709" y2="938" stroke="#7e7e7e" stroke-width="1.05"/>
<line x1="57" y1="561.75" x2="57" y2="938" stroke="#7e7e7e" stroke-width="1.05"/>
<line x1="108.75" y1="584.25" x2="108.75" y2="938" stroke="#7e7e7e" stroke-width="1.05"/>
<line x1="161.25" y1="561.75" x2="161.25" y2="938" stroke="#7e7e7e" stroke-width="1.05"/>
<line x1="198.25" y1="584.25" x2="198.25" y2="760.75" stroke="#7e7e7e" stroke-width="1.05"/>
<line x1="235" y1="584.25" x2="235" y2="760.75" stroke="#7e7e7e" stroke-width="1.05"/>
<line x1="272" y1="584.25" x2="272" y2="760.75" stroke="#7e7e7e" stroke-width="1.05"/>
<line x1="309" y1="584.25" x2="309" y2="760.75" stroke="#7e7e7e" stroke-width="1.05"/>
<line x1="346.25" y1="584.25" x2="346.25" y2="760.75" stroke="#7e7e7e" stroke-width="1.05"/>
<line x1="383.25" y1="584.25" x2="383.25" y2="760.75" stroke="#7e7e7e" stroke-width="1.05"/>
<line x1="427.5" y1="605.75" x2="427.5" y2="760.75" stroke="#7e7e7e" stroke-width="1.05"/>
<line x1="457" y1="605.75" x2="457" y2="760.75" stroke="#7e7e7e" stroke-width="1.05"/>
<line x1="530.5" y1="605.75" x2="530.5" y2="760.75" stroke="#7e7e7e" stroke-width="1.05"/>
<line x1="590.5" y1="561.75" x2="590.5" y2="760.75" stroke="#7e7e7e" stroke-width="1.05"/>
<line x1="650.4" y1="561.75" x2="650.4" y2="760.75" stroke="#7e7e7e" stroke-width="1.05"/>
<line x1="198.25" y1="760.75" x2="198.25" y2="938" stroke="#7e7e7e" stroke-width="1.05"/>
<line x1="235" y1="760.75" x2="235" y2="938" stroke="#7e7e7e" stroke-width="1.05"/>
<line x1="272" y1="760.75" x2="272" y2="938" stroke="#7e7e7e" stroke-width="1.05"/>
<line x1="309" y1="760.75" x2="309" y2="938" stroke="#7e7e7e" stroke-width="1.05"/>
<line x1="346.25" y1="760.75" x2="346.25" y2="938" stroke="#7e7e7e" stroke-width="1.05"/>
<line x1="383.25" y1="760.75" x2="383.25" y2="938" stroke="#7e7e7e" stroke-width="1.05"/>
<line x1="427.5" y1="760.75" x2="427.5" y2="938" stroke="#7e7e7e" stroke-width="1.05"/>
<line x1="457.5" y1="760.75" x2="457.5" y2="938" stroke="#7e7e7e" stroke-width="1.05"/>
<line x1="494.5" y1="804.25" x2="494.5" y2="938" stroke="#7e7e7e" stroke-width="1.05"/>
<line x1="530.2" y1="760.75" x2="530.2" y2="938" stroke="#7e7e7e" stroke-width="1.05"/>
<line x1="590.5" y1="760.75" x2="590.5" y2="938" stroke="#7e7e7e" stroke-width="1.05"/>
<line x1="650.4" y1="760.75" x2="650.4" y2="938" stroke="#7e7e7e" stroke-width="1.05"/>
<line x1="679.9" y1="804.25" x2="679.9" y2="938" stroke="#7e7e7e" stroke-width="1.05"/>
<text x="29.8" y="591.1" font-size="12.6" letter-spacing="0.8" style="font-family:'Liberation Serif','Noto Serif CJK SC',serif;fill:#333;stroke:none">机号</text>
<text x="42.00" y="611.00" font-size="13" text-anchor="middle">No.</text>
<text x="78.0" y="578.6" font-size="11.5" style="font-family:'Liberation Serif','Noto Serif CJK SC',serif;fill:#333;stroke:none">进</text>
<text x="103.7" y="578.6" font-size="11.5" style="font-family:'Liberation Serif','Noto Serif CJK SC',serif;fill:#333;stroke:none">风</text>
<text x="129.5" y="578.6" font-size="11.5" style="font-family:'Liberation Serif','Noto Serif CJK SC',serif;fill:#333;stroke:none">口</text>
<text x="332.3" y="578.4" font-size="11.5" style="font-family:'Liberation Serif','Noto Serif CJK SC',serif;fill:#333;stroke:none">出</text>
<text x="370.3" y="578.4" font-size="11.5" style="font-family:'Liberation Serif','Noto Serif CJK SC',serif;fill:#333;stroke:none">风</text>
<text x="409.8" y="578.4" font-size="11.5" style="font-family:'Liberation Serif','Noto Serif CJK SC',serif;fill:#333;stroke:none">口</text>
<text x="456.0" y="599.6" font-size="11.5" style="font-family:'Liberation Serif','Noto Serif CJK SC',serif;fill:#333;stroke:none">螺</text>
<text x="482.0" y="599.6" font-size="11.5" style="font-family:'Liberation Serif','Noto Serif CJK SC',serif;fill:#333;stroke:none">栓</text>
<text x="506.0" y="599.6" font-size="11.5" style="font-family:'Liberation Serif','Noto Serif CJK SC',serif;fill:#333;stroke:none">孔</text>
<text x="83.38" y="611.50" font-size="11.5" text-anchor="middle" letter-spacing="0.7" style="stroke:#222;stroke-width:0.2">D1</text>
<text x="135.50" y="611.50" font-size="11.5" text-anchor="middle" letter-spacing="0.7" style="stroke:#222;stroke-width:0.2">D2</text>
<text x="180.75" y="610.00" font-size="11" text-anchor="middle" letter-spacing="0.7" style="stroke:#222;stroke-width:0.2">B1</text>
<text x="217.62" y="610.00" font-size="11" text-anchor="middle" letter-spacing="0.7" style="stroke:#222;stroke-width:0.2">B2</text>
<text x="254.50" y="611.00" font-size="11" text-anchor="middle" letter-spacing="0.7" style="stroke:#222;stroke-width:0.2">B3</text>
<text x="291.50" y="611.00" font-size="11" text-anchor="middle" letter-spacing="0.7" style="stroke:#222;stroke-width:0.2">B4</text>
<text x="328.62" y="610.50" font-size="11" text-anchor="middle" letter-spacing="0.7" style="stroke:#222;stroke-width:0.2">B5</text>
<text x="365.75" y="611.00" font-size="11" text-anchor="middle" letter-spacing="0.7" style="stroke:#222;stroke-width:0.2">B6</text>
<text x="406.38" y="622.30" font-size="13" text-anchor="middle">d1</text>
<text x="443.25" y="622.30" font-size="13" text-anchor="middle">n1</text>
<text x="494.75" y="622.30" font-size="13" text-anchor="middle">n2× b1</text>
<text x="561.50" y="622.30" font-size="13" text-anchor="middle">n3× b2</text>
<text x="621.25" y="600.00" font-size="11" text-anchor="middle" letter-spacing="0.7" style="stroke:#222;stroke-width:0.2">A1</text>
<text x="680.30" y="599.50" font-size="11" text-anchor="middle" letter-spacing="0.7" style="stroke:#222;stroke-width:0.2">A2</text>
<text x="42.00" y="644.35" font-size="12" text-anchor="middle" style="fill:#444">3</text>
<text x="83.28" y="644.35" font-size="12.5" text-anchor="middle">300</text>
<text x="136.00" y="643.75" font-size="12.5" text-anchor="middle">380</text>
<text x="179.75" y="644.35" font-size="12.5" text-anchor="middle">183</text>
<text x="217.12" y="644.35" font-size="12.5" text-anchor="middle">210</text>
<text x="254.70" y="644.35" font-size="12.5" text-anchor="middle">239</text>
<text x="291.50" y="643.55" font-size="12.5" text-anchor="middle">312</text>
<text x="329.12" y="644.35" font-size="12.5" text-anchor="middle">340</text>
<text x="365.15" y="644.35" font-size="12.5" text-anchor="middle">366</text>
<text x="406.38" y="644.35" font-size="12.5" text-anchor="middle">Φ7</text>
<text x="443.05" y="643.75" font-size="12.5" text-anchor="middle">14</text>
<text x="494.55" y="644.35" font-size="12.5" text-anchor="middle" word-spacing="-1.2">3 × 70</text>
<text x="561.30" y="644.35" font-size="12.5" text-anchor="middle" word-spacing="-1.2">4 × 85</text>
<text x="620.95" y="643.75" font-size="12.5" text-anchor="middle">231</text>
<text x="680.20" y="645.35" font-size="12.5" text-anchor="middle">137</text>
<text x="42.00" y="666.60" font-size="12" text-anchor="middle" letter-spacing="2.4" style="fill:#444">3.5</text>
<text x="83.28" y="666.60" font-size="12.5" text-anchor="middle">350</text>
<text x="136.00" y="666.00" font-size="12.5" text-anchor="middle">430</text>
<text x="179.75" y="666.60" font-size="12.5" text-anchor="middle">214</text>
<text x="217.12" y="666.60" font-size="12.5" text-anchor="middle">246</text>
<text x="254.70" y="666.60" font-size="12.5" text-anchor="middle">270</text>
<text x="291.50" y="665.80" font-size="12.5" text-anchor="middle">364</text>
<text x="329.12" y="666.60" font-size="12.5" text-anchor="middle">394</text>
<text x="365.15" y="666.60" font-size="12.5" text-anchor="middle">418</text>
<text x="406.38" y="666.60" font-size="12.5" text-anchor="middle">Φ7</text>
<text x="443.05" y="666.00" font-size="12.5" text-anchor="middle">14</text>
<text x="494.55" y="666.60" font-size="12.5" text-anchor="middle" word-spacing="-1.2">3 × 82</text>
<text x="561.30" y="666.60" font-size="12.5" text-anchor="middle" word-spacing="-1.2">4 × 98.5</text>
<text x="620.95" y="666.00" font-size="12.5" text-anchor="middle">270</text>
<text x="680.20" y="667.60" font-size="12.5" text-anchor="middle">152</text>
<text x="42.00" y="688.60" font-size="12" text-anchor="middle" style="fill:#444">4</text>
<text x="83.28" y="688.60" font-size="12.5" text-anchor="middle">400</text>
<text x="136.00" y="688.00" font-size="12.5" text-anchor="middle">480</text>
<text x="179.75" y="688.60" font-size="12.5" text-anchor="middle">244</text>
<text x="217.12" y="688.60" font-size="12.5" text-anchor="middle">282</text>
<text x="254.70" y="688.60" font-size="12.5" text-anchor="middle">310</text>
<text x="291.50" y="687.80" font-size="12.5" text-anchor="middle">416</text>
<text x="329.12" y="688.60" font-size="12.5" text-anchor="middle">455</text>
<text x="365.15" y="688.60" font-size="12.5" text-anchor="middle">480</text>
<text x="406.38" y="688.60" font-size="12.5" text-anchor="middle">Φ7</text>
<text x="443.05" y="688.00" font-size="12.5" text-anchor="middle">16</text>
<text x="494.55" y="688.60" font-size="12.5" text-anchor="middle" word-spacing="-1.2">3 × 94</text>
<text x="561.30" y="688.60" font-size="12.5" text-anchor="middle" word-spacing="-1.2">5 × 91</text>
<text x="620.95" y="688.00" font-size="12.5" text-anchor="middle">308</text>
<text x="680.20" y="689.60" font-size="12.5" text-anchor="middle">167</text>
<text x="42.00" y="710.73" font-size="12" text-anchor="middle" letter-spacing="2.4" style="fill:#444">4.5</text>
<text x="83.28" y="710.73" font-size="12.5" text-anchor="middle">450</text>
<text x="136.00" y="710.12" font-size="12.5" text-anchor="middle">530</text>
<text x="179.75" y="710.73" font-size="12.5" text-anchor="middle">275</text>
<text x="217.12" y="710.73" font-size="12.5" text-anchor="middle">306</text>
<text x="254.70" y="710.73" font-size="12.5" text-anchor="middle">341</text>
<text x="291.50" y="709.93" font-size="12.5" text-anchor="middle">468</text>
<text x="329.12" y="710.73" font-size="12.5" text-anchor="middle">500</text>
<text x="365.15" y="710.73" font-size="12.5" text-anchor="middle">532</text>
<text x="406.38" y="710.73" font-size="12.5" text-anchor="middle">Φ8.5</text>
<text x="443.05" y="710.12" font-size="12.5" text-anchor="middle">16</text>
<text x="494.55" y="710.73" font-size="12.5" text-anchor="middle" word-spacing="-1.2">3 × 102</text>
<text x="561.30" y="710.73" font-size="12.5" text-anchor="middle" word-spacing="-1.2">5 × 100</text>
<text x="620.95" y="710.12" font-size="12.5" text-anchor="middle">347</text>
<text x="680.20" y="711.73" font-size="12.5" text-anchor="middle">184</text>
<text x="42.00" y="732.85" font-size="12" text-anchor="middle" style="fill:#444">5</text>
<text x="83.28" y="732.85" font-size="12.5" text-anchor="middle">500</text>
<text x="136.00" y="732.25" font-size="12.5" text-anchor="middle">580</text>
<text x="179.75" y="732.85" font-size="12.5" text-anchor="middle">305</text>
<text x="217.12" y="732.85" font-size="12.5" text-anchor="middle">352</text>
<text x="254.70" y="732.85" font-size="12.5" text-anchor="middle">393</text>
<text x="291.50" y="732.05" font-size="12.5" text-anchor="middle">520</text>
<text x="329.12" y="732.85" font-size="12.5" text-anchor="middle">567</text>
<text x="365.15" y="732.85" font-size="12.5" text-anchor="middle">606</text>
<text x="406.38" y="732.85" font-size="12.5" text-anchor="middle">Φ8.5</text>
<text x="443.05" y="732.25" font-size="12.5" text-anchor="middle">20</text>
<text x="494.55" y="732.85" font-size="12.5" text-anchor="middle" word-spacing="-1.2">4 × 88</text>
<text x="561.30" y="732.85" font-size="12.5" text-anchor="middle" word-spacing="-1.2">6 × 94.5</text>
<text x="620.95" y="732.25" font-size="12.5" text-anchor="middle">385</text>
<text x="680.20" y="733.85" font-size="12.5" text-anchor="middle">200</text>
<text x="42.00" y="754.85" font-size="12" text-anchor="middle" style="fill:#444">6</text>
<text x="83.28" y="754.85" font-size="12.5" text-anchor="middle">600</text>
<text x="136.00" y="754.25" font-size="12.5" text-anchor="middle">680</text>
<text x="179.75" y="754.85" font-size="12.5" text-anchor="middle">366</text>
<text x="217.12" y="754.85" font-size="12.5" text-anchor="middle">416</text>
<text x="254.70" y="754.85" font-size="12.5" text-anchor="middle">454</text>
<text x="291.50" y="754.05" font-size="12.5" text-anchor="middle">624</text>
<text x="329.12" y="754.85" font-size="12.5" text-anchor="middle">672</text>
<text x="365.15" y="754.85" font-size="12.5" text-anchor="middle">710</text>
<text x="406.38" y="754.85" font-size="12.5" text-anchor="middle">Φ8.5</text>
<text x="443.05" y="754.25" font-size="12.5" text-anchor="middle">20</text>
<text x="494.55" y="754.85" font-size="12.5" text-anchor="middle" word-spacing="-1.2">4 × 104</text>
<text x="561.30" y="754.85" font-size="12.5" text-anchor="middle" word-spacing="-1.2">6 × 112</text>
<text x="620.95" y="754.25" font-size="12.5" text-anchor="middle">462</text>
<text x="680.20" y="755.85" font-size="12.5" text-anchor="middle">230</text>
<text x="29.8" y="777.7" font-size="12.6" letter-spacing="0.8" style="font-family:'Liberation Serif','Noto Serif CJK SC',serif;fill:#333;stroke:none">机号</text>
<text x="42.00" y="798.00" font-size="13" text-anchor="middle">No.</text>
<text x="84.08" y="787.50" font-size="12.5" text-anchor="middle" letter-spacing="1">A3</text>
<text x="136.20" y="787.50" font-size="12.5" text-anchor="middle" letter-spacing="1">A4</text>
<text x="180.95" y="787.50" font-size="12.5" text-anchor="middle" letter-spacing="1">A5</text>
<text x="217.82" y="787.50" font-size="12.5" text-anchor="middle" letter-spacing="1">B7</text>
<text x="254.70" y="787.50" font-size="12.5" text-anchor="middle" letter-spacing="1">B8</text>
<text x="291.70" y="787.50" font-size="12.5" text-anchor="middle" letter-spacing="1">E1</text>
<text x="328.82" y="787.50" font-size="12.5" text-anchor="middle" letter-spacing="1">E2</text>
<text x="365.95" y="787.50" font-size="12.5" text-anchor="middle" letter-spacing="1">E3</text>
<text x="406.57" y="787.50" font-size="12.5" text-anchor="middle" letter-spacing="1">E4</text>
<text x="443.70" y="787.50" font-size="12.5" text-anchor="middle" letter-spacing="1">E5</text>
<text x="494.85" y="787.50" font-size="12.5" text-anchor="middle" letter-spacing="1">H1</text>
<text x="541.7" y="778.4" font-size="12.3" letter-spacing="0.1" style="font-family:'Liberation Serif','Noto Serif CJK SC',serif;fill:#333;stroke:none">叶轮重</text>
<text x="561.95" y="798.80" font-size="12.5" text-anchor="middle" letter-spacing="1.6" style="stroke:#222;stroke-width:0.2">(kg)</text>
<text x="601.7" y="778.4" font-size="12.3" letter-spacing="0.1" style="font-family:'Liberation Serif','Noto Serif CJK SC',serif;fill:#333;stroke:none">风机重</text>
<text x="621.25" y="798.80" font-size="12.5" text-anchor="middle" letter-spacing="1.6" style="stroke:#222;stroke-width:0.2">(kg)</text>
<text x="661.0" y="778.4" font-size="12.3" letter-spacing="0.1" style="font-family:'Liberation Serif','Noto Serif CJK SC',serif;fill:#333;stroke:none">电动机</text>
<text x="661.0" y="798.8" font-size="12.3" style="font-family:'Liberation Serif','Noto Serif CJK SC',serif;fill:#333;stroke:none">重</text>
<text x="685.20" y="798.80" font-size="12.5" text-anchor="middle" letter-spacing="1.2" style="stroke:#222;stroke-width:0.2">(kg)</text>
<text x="42.00" y="820.98" font-size="12" text-anchor="middle" style="fill:#444">3</text>
<text x="83.38" y="820.98" font-size="12.5" text-anchor="middle">481</text>
<text x="135.70" y="820.98" font-size="12.5" text-anchor="middle">150</text>
<text x="180.45" y="820.98" font-size="12.5" text-anchor="middle">350</text>
<text x="217.43" y="820.98" font-size="12.5" text-anchor="middle">250</text>
<text x="254.00" y="820.98" font-size="12.5" text-anchor="middle">400</text>
<text x="291.70" y="819.77" font-size="12.5" text-anchor="middle">544</text>
<text x="327.82" y="820.98" font-size="12.5" text-anchor="middle">225</text>
<text x="365.05" y="820.98" font-size="12.5" text-anchor="middle">414</text>
<text x="406.18" y="820.98" font-size="12.5" text-anchor="middle">680</text>
<text x="443.00" y="820.98" font-size="12.5" text-anchor="middle">450</text>
<text x="469.30" y="820.98" font-size="12.5" text-anchor="start">80</text>
<text x="506.30" y="820.98" font-size="12.5" text-anchor="start">80</text>
<text x="561.35" y="820.98" font-size="12.5" text-anchor="middle">6.8</text>
<text x="620.45" y="820.18" font-size="12.5" text-anchor="middle">25.9</text>
<text x="665.15" y="821.27" font-size="12.5" text-anchor="middle">17</text>
<text x="694.45" y="821.58" font-size="12.5" text-anchor="middle">17</text>
<text x="42.00" y="843.60" font-size="12" text-anchor="middle" letter-spacing="2.4" style="fill:#444">3.5</text>
<text x="83.38" y="843.60" font-size="12.5" text-anchor="middle">562</text>
<text x="135.70" y="843.60" font-size="12.5" text-anchor="middle">200</text>
<text x="180.45" y="843.60" font-size="12.5" text-anchor="middle">400</text>
<text x="217.43" y="843.60" font-size="12.5" text-anchor="middle">300</text>
<text x="254.00" y="843.60" font-size="12.5" text-anchor="middle">450</text>
<text x="291.70" y="842.40" font-size="12.5" text-anchor="middle">634</text>
<text x="327.82" y="843.60" font-size="12.5" text-anchor="middle">263</text>
<text x="365.05" y="843.60" font-size="12.5" text-anchor="middle">479</text>
<text x="406.18" y="843.60" font-size="12.5" text-anchor="middle">774</text>
<text x="443.00" y="843.60" font-size="12.5" text-anchor="middle">510</text>
<text x="469.30" y="843.60" font-size="12.5" text-anchor="start">90</text>
<text x="506.30" y="843.60" font-size="12.5" text-anchor="start">90</text>
<text x="561.35" y="843.60" font-size="12.5" text-anchor="middle">8.5</text>
<text x="620.45" y="842.80" font-size="12.5" text-anchor="middle">33.8</text>
<text x="665.15" y="843.90" font-size="12.5" text-anchor="middle">22</text>
<text x="694.45" y="844.20" font-size="12.5" text-anchor="middle">19</text>
<text x="42.00" y="865.73" font-size="12" text-anchor="middle" style="fill:#444">4</text>
<text x="83.38" y="865.73" font-size="12.5" text-anchor="middle">672</text>
<text x="135.70" y="865.73" font-size="12.5" text-anchor="middle">280</text>
<text x="180.45" y="865.73" font-size="12.5" text-anchor="middle">450</text>
<text x="217.43" y="865.73" font-size="12.5" text-anchor="middle">380</text>
<text x="254.00" y="865.73" font-size="12.5" text-anchor="middle">500</text>
<text x="291.70" y="864.52" font-size="12.5" text-anchor="middle">722</text>
<text x="327.82" y="865.73" font-size="12.5" text-anchor="middle">300</text>
<text x="365.05" y="865.73" font-size="12.5" text-anchor="middle">548</text>
<text x="406.18" y="865.73" font-size="12.5" text-anchor="middle">885</text>
<text x="443.00" y="865.73" font-size="12.5" text-anchor="middle">580</text>
<text x="469.30" y="865.73" font-size="12.5" text-anchor="start">132</text>
<text x="506.30" y="865.73" font-size="12.5" text-anchor="start">90</text>
<text x="561.35" y="865.73" font-size="12.5" text-anchor="middle">18.5</text>
<text x="620.45" y="864.93" font-size="12.5" text-anchor="middle">65</text>
<text x="665.15" y="866.02" font-size="12.5" text-anchor="middle">65</text>
<text x="694.45" y="866.33" font-size="12.5" text-anchor="middle">22</text>
<text x="42.00" y="887.73" font-size="12" text-anchor="middle" letter-spacing="2.4" style="fill:#444">4.5</text>
<text x="83.38" y="887.73" font-size="12.5" text-anchor="middle">704</text>
<text x="135.70" y="887.73" font-size="12.5" text-anchor="middle">280</text>
<text x="180.45" y="887.73" font-size="12.5" text-anchor="middle">450</text>
<text x="217.43" y="887.73" font-size="12.5" text-anchor="middle">380</text>
<text x="254.00" y="887.73" font-size="12.5" text-anchor="middle">500</text>
<text x="291.70" y="886.52" font-size="12.5" text-anchor="middle">812</text>
<text x="327.82" y="887.73" font-size="12.5" text-anchor="middle">338</text>
<text x="365.05" y="887.73" font-size="12.5" text-anchor="middle">613</text>
<text x="406.18" y="887.73" font-size="12.5" text-anchor="middle">990</text>
<text x="443.00" y="887.73" font-size="12.5" text-anchor="middle">650</text>
<text x="469.30" y="887.73" font-size="12.5" text-anchor="start">132</text>
<text x="506.30" y="887.73" font-size="12.5" text-anchor="start">90</text>
<text x="561.35" y="887.73" font-size="12.5" text-anchor="middle">23</text>
<text x="620.45" y="886.93" font-size="12.5" text-anchor="middle">74</text>
<text x="665.15" y="888.02" font-size="12.5" text-anchor="middle">70</text>
<text x="694.45" y="888.33" font-size="12.5" text-anchor="middle">22</text>
<text x="42.00" y="909.70" font-size="12" text-anchor="middle" style="fill:#444">5</text>
<text x="83.38" y="909.70" font-size="12.5" text-anchor="middle">856</text>
<text x="135.70" y="909.70" font-size="12.5" text-anchor="middle">400</text>
<text x="180.45" y="909.70" font-size="12.5" text-anchor="middle">500</text>
<text x="217.43" y="909.70" font-size="12.5" text-anchor="middle">500</text>
<text x="254.00" y="909.70" font-size="12.5" text-anchor="middle">550</text>
<text x="291.70" y="908.50" font-size="12.5" text-anchor="middle">903</text>
<text x="327.82" y="909.70" font-size="12.5" text-anchor="middle">375</text>
<text x="365.05" y="909.70" font-size="12.5" text-anchor="middle">688</text>
<text x="396.78" y="909.70" font-size="12.5" text-anchor="start">1108</text>
<text x="443.00" y="909.70" font-size="12.5" text-anchor="middle">720</text>
<text x="469.30" y="909.70" font-size="12.5" text-anchor="start">160</text>
<text x="506.30" y="909.70" font-size="12.5" text-anchor="start">100</text>
<text x="561.35" y="909.70" font-size="12.5" text-anchor="middle">27.3</text>
<text x="620.45" y="908.90" font-size="12.5" text-anchor="middle">98</text>
<text x="665.15" y="910.00" font-size="12.5" text-anchor="middle">123</text>
<text x="694.45" y="910.30" font-size="12.5" text-anchor="middle">32</text>
<text x="42.00" y="931.95" font-size="12" text-anchor="middle" style="fill:#444">6</text>
<text x="83.38" y="931.95" font-size="12.5" text-anchor="middle">797</text>
<text x="135.70" y="931.95" font-size="12.5" text-anchor="middle">280</text>
<text x="180.45" y="931.95" font-size="12.5" text-anchor="middle">450</text>
<text x="217.43" y="931.95" font-size="12.5" text-anchor="middle">380</text>
<text x="254.00" y="931.95" font-size="12.5" text-anchor="middle">500</text>
<text x="282.30" y="930.75" font-size="12.5" text-anchor="start">1082</text>
<text x="327.82" y="931.95" font-size="12.5" text-anchor="middle">450</text>
<text x="365.05" y="931.95" font-size="12.5" text-anchor="middle">817</text>
<text x="396.78" y="931.95" font-size="12.5" text-anchor="start">1319</text>
<text x="443.00" y="931.95" font-size="12.5" text-anchor="middle">850</text>
<text x="469.30" y="931.95" font-size="12.5" text-anchor="start">112</text>
<text x="506.30" y="931.95" font-size="12.5" text-anchor="start">100</text>
<text x="561.35" y="931.95" font-size="12.5" text-anchor="middle">36.3</text>
<text x="620.45" y="931.15" font-size="12.5" text-anchor="middle">151</text>
<text x="665.15" y="932.25" font-size="12.5" text-anchor="middle">45</text>
<text x="694.45" y="932.55" font-size="12.5" text-anchor="middle">30</text>
<text x="652.8" y="556.9" font-size="12" style="font-family:'Liberation Serif','Noto Serif CJK SC',serif;fill:#222;stroke:none">单</text>
<text x="668.2" y="556.9" font-size="12" style="font-family:'Liberation Serif','Noto Serif CJK SC',serif;fill:#222;stroke:none">位</text>
<text x="679.30" y="556.00" font-size="12" text-anchor="start">:</text>
<text x="697.00" y="556.00" font-size="12" text-anchor="middle" letter-spacing="0.6">m m</text>
<text x="27.0" y="959.9" font-size="11.5" font-weight="bold" letter-spacing="0.2" style="font-family:'Liberation Sans','Noto Sans CJK SC',sans-serif;fill:#222;stroke:none">备注</text>
<text x="51.50" y="959.50" font-size="12" text-anchor="start" font-weight="bold">:</text>
<text x="61.8" y="960.3" font-size="12.3" letter-spacing="0.05" style="font-family:'Liberation Serif','Noto Serif CJK SC',serif;fill:#333;stroke:none">风机重量不包括电机重量</text>
</g>
</svg>
</body></html>
